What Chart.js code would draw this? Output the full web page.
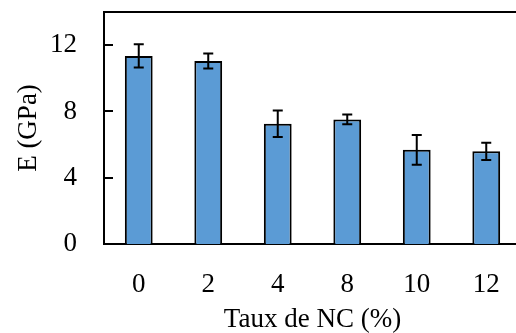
<!DOCTYPE html>
<html>
<head>
<meta charset="utf-8">
<script src="https://cdn.jsdelivr.net/npm/chart.js@4"></script>
<style>
  html, body { margin: 0; padding: 0; overflow: hidden; background: #fff; }
  #wrap { width: 522px; height: 333px; }
</style>
</head>
<body>
<div id="wrap"><canvas id="modChart"></canvas></div>
<script>
// === DATA ===
const categories = ["0", "2", "4", "8", "10", "12"];
const modulus = [11.35, 11.04, 7.26, 7.52, 5.68, 5.59];
const modulusErr = [0.7, 0.45, 0.8, 0.3, 0.9, 0.52];
const yTicks = [0, 4, 8, 12];

const FONT = "'Liberation Serif', 'DejaVu Serif', serif";

// error bars + inward y ticks + top frame line
const extras = {
  id: "extras",
  afterDatasetsDraw(chart) {
    const ctx = chart.ctx;
    const y = chart.scales.y;
    const bars = chart.getDatasetMeta(0).data;
    ctx.save();
    ctx.strokeStyle = "#000";
    ctx.lineWidth = 2;
    bars.forEach((bar, i) => {
      const top = y.getPixelForValue(modulus[i] + modulusErr[i]);
      const bot = y.getPixelForValue(modulus[i] - modulusErr[i]);
      ctx.beginPath();
      ctx.moveTo(bar.x, top); ctx.lineTo(bar.x, bot);
      ctx.moveTo(bar.x - 5, top); ctx.lineTo(bar.x + 5, top);
      ctx.moveTo(bar.x - 5, bot); ctx.lineTo(bar.x + 5, bot);
      ctx.stroke();
    });
    ctx.restore();
  },
  afterDraw(chart) {
    const ctx = chart.ctx;
    const a = chart.chartArea;
    const y = chart.scales.y;
    ctx.save();
    ctx.strokeStyle = "#000";
    ctx.lineWidth = 2;
    ctx.beginPath();
    ctx.moveTo(a.left - 1, a.top); ctx.lineTo(a.right, a.top);
    yTicks.forEach(v => {
      const py = Math.round(y.getPixelForValue(v));
      ctx.moveTo(a.left, py); ctx.lineTo(a.left + 9, py);
    });
    ctx.stroke();
    ctx.restore();
  }
};

const ctx = document.getElementById("modChart").getContext("2d");
new Chart(ctx, {
  type: "bar",
  data: {
    labels: categories,
    datasets: [{
      data: modulus,
      backgroundColor: "#5B9BD5",
      borderColor: "#000",
      borderWidth: 2,
      barPercentage: 0.4,
      categoryPercentage: 1
    }]
  },
  options: {
    responsive: true,
    maintainAspectRatio: false,
    animation: false,
    layout: { padding: { top: 12, right: 1, left: 0, bottom: 0 } },
    plugins: { legend: { display: false }, tooltip: { enabled: false } },
    scales: {
      x: {
        afterFit: s => { s.height = 89; s.paddingLeft = 0; s.paddingRight = 0; },
        grid: { display: false, drawTicks: false },
        border: { color: "#000", width: 2 },
        ticks: { color: "#000", padding: 25, font: { family: FONT, size: 27 } },
        title: {
          display: true, text: "Taux de NC (%)", color: "#000",
          padding: { top: 0, bottom: 0 },
          font: { family: FONT, size: 27, lineHeight: 1 }
        }
      },
      y: {
        min: 0, max: 14,
        afterFit: s => { s.width = 104; s.paddingTop = 0; s.paddingBottom = 0; },
        grid: { display: false, drawTicks: false },
        border: { color: "#000", width: 2 },
        ticks: {
          stepSize: 4, includeBounds: false, color: "#000", padding: 27,
          font: { family: FONT, size: 27 },
          callback: v => yTicks.includes(v) ? v : ""
        },
        title: {
          display: true, text: "E (GPa)", color: "#000",
          padding: { top: 15, bottom: 0 },
          font: { family: FONT, size: 27, lineHeight: 1 }
        }
      }
    }
  },
  plugins: [extras]
});
</script>
</body>
</html>
